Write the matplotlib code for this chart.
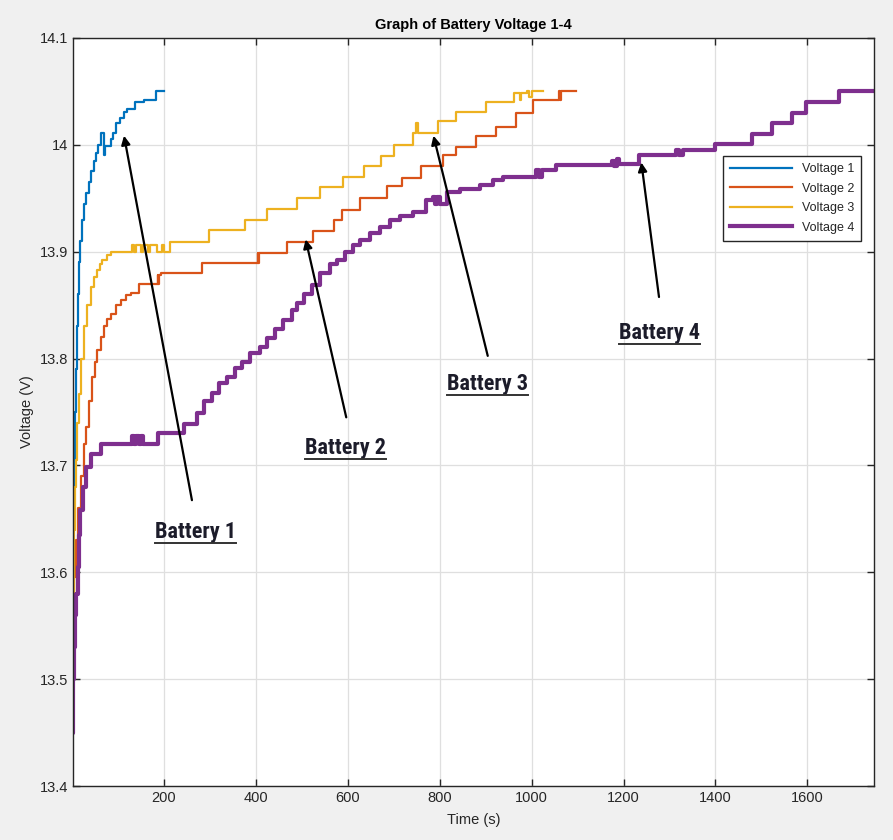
import matplotlib
matplotlib.use("Agg")
import matplotlib.pyplot as plt
from matplotlib.lines import Line2D
from matplotlib.ticker import FuncFormatter

plt.rcParams['font.family'] = ['Liberation Sans', 'DejaVu Sans']

# MATLAB default colours
c_blue, c_orange, c_yellow, c_purple = "#0072BD", "#D95319", "#EDB120", "#7E2F8E"

# Voltage 1 (time s, volts) - step data
t1 = [0, 1, 2, 3, 4.6, 6, 8, 10, 12, 15, 18, 22, 26, 30, 36, 42, 47, 52, 57, 62,
      69, 72, 85, 90, 96, 105, 112, 120, 138, 156, 182, 200]
v1 = [13.45, 13.55, 13.62, 13.67, 13.705, 13.75, 13.79, 13.83, 13.86, 13.89, 13.91, 13.93,
      13.945, 13.955, 13.965, 13.975, 13.985, 13.992, 14.0, 14.011,
      13.99, 13.999, 14.005, 14.011, 14.02, 14.025, 14.031, 14.033, 14.04, 14.042, 14.05, 14.05]

# Voltage 2
t2 = [0, 2, 4.6, 8, 12, 19, 25, 30, 37, 44, 50, 55, 62, 70, 77, 84, 95, 106, 117, 128,
      146, 186, 188, 190, 193, 283, 404, 405, 406, 468, 525, 569, 587, 627, 685, 717, 760,
      807, 836, 880, 923, 967, 1003, 1060, 1062, 1064, 1075, 1097]
v2 = [13.45, 13.55, 13.596, 13.63, 13.66, 13.69, 13.72, 13.736, 13.76, 13.783, 13.797,
      13.808, 13.82, 13.83, 13.837, 13.842, 13.85, 13.855, 13.859, 13.861,
      13.870, 13.878, 13.870, 13.878, 13.880, 13.889, 13.899, 13.889, 13.899, 13.909, 13.919,
      13.93, 13.939, 13.95, 13.961, 13.969, 13.98, 13.99, 13.998, 14.008, 14.017, 14.03,
      14.042, 14.05, 14.042, 14.05, 14.05, 14.05]

# Voltage 3
t3 = [0, 2, 4, 6, 8, 11, 15, 20, 26, 33, 41, 48, 55, 60, 66, 75, 84,
      130, 135, 140, 150, 155, 165, 170, 185, 195, 200, 214, 297, 377, 424, 489, 540,
      590, 636, 672, 700, 742, 748, 752, 797, 836, 900, 961, 975, 978, 990, 995, 1000, 1024]
v3 = [13.45, 13.57, 13.64, 13.68, 13.705, 13.74, 13.767, 13.80, 13.83, 13.85, 13.867,
      13.876, 13.883, 13.888, 13.892, 13.897, 13.90,
      13.906, 13.90, 13.906, 13.90, 13.906, 13.90, 13.906, 13.90, 13.906, 13.90, 13.909,
      13.92, 13.93, 13.94, 13.95, 13.96, 13.97, 13.98, 13.989, 14.0, 14.011, 14.02,
      14.011, 14.022, 14.031, 14.04, 14.048, 14.042, 14.048, 14.05, 14.045, 14.05, 14.05]

# Voltage 4
t4 = [0, 1, 2, 4, 6, 8, 12, 15, 18, 23, 30, 41, 62, 130, 135, 140, 145, 150, 155, 188,
      243, 272, 287, 305, 319, 337, 355, 370, 388, 410, 424, 442, 460, 478, 489, 504, 522,
      540, 561, 576, 594, 612, 627, 648, 670, 692, 713, 742, 771, 786, 790, 795, 800, 815,
      844, 887, 916, 938, 1010, 1017, 1022, 1030, 1053, 1176, 1180, 1185, 1190, 1234, 1314,
      1320, 1330, 1400, 1480, 1523, 1567, 1596, 1668, 1745]
v4 = [13.45, 13.45, 13.50, 13.53, 13.56, 13.58, 13.605, 13.635, 13.658, 13.68, 13.699,
      13.711, 13.72, 13.728, 13.72, 13.728, 13.72, 13.728, 13.72, 13.73,
      13.739, 13.749, 13.76, 13.768, 13.777, 13.783, 13.791, 13.797, 13.805, 13.811, 13.819,
      13.828, 13.836, 13.845, 13.852, 13.86, 13.869, 13.88, 13.888, 13.892, 13.90, 13.906,
      13.911, 13.917, 13.923, 13.93, 13.933, 13.937, 13.948, 13.951, 13.945, 13.951, 13.945,
      13.956, 13.959, 13.962, 13.967, 13.970, 13.976, 13.970, 13.976, 13.976, 13.981, 13.985,
      13.98, 13.987, 13.982, 13.99, 13.995, 13.99, 13.995, 14.001, 14.01, 14.02, 14.03, 14.04,
      14.05, 14.05]

# annotations: label, text position, arrow tail, arrow tip
labels = ["Battery 1", "Battery 2", "Battery 3", "Battery 4"]
text_xy = [(269, 13.638), (596, 13.716), (903, 13.776), (1278, 13.824)]
tail_xy = [(262, 13.665), (598, 13.7425), (906, 13.80), (1278, 13.855)]
tip_xy = [(112, 14.011), (507, 13.914), (785, 14.011), (1238, 13.986)]

fig = plt.figure(figsize=(8.93, 8.4), dpi=100, facecolor="#f0f0f0")
ax = fig.add_axes([0.0817, 0.064, 0.897, 0.891])

ax.plot(t1, v1, color=c_blue, lw=1.6, drawstyle="steps-post", label="Voltage 1")
ax.plot(t2, v2, color=c_orange, lw=1.6, drawstyle="steps-post", label="Voltage 2")
ax.plot(t3, v3, color=c_yellow, lw=1.6, drawstyle="steps-post", label="Voltage 3")
ax.plot(t4, v4, color=c_purple, lw=3.0, drawstyle="steps-post", label="Voltage 4")

ax.set_xlim(2, 1745)
ax.set_ylim(13.4, 14.1)
ax.set_xticks(range(200, 1601, 200))
ax.set_yticks([13.4, 13.5, 13.6, 13.7, 13.8, 13.9, 14.0, 14.1])
ax.yaxis.set_major_formatter(FuncFormatter(lambda v, p: "{:g}".format(round(v, 2))))
ax.grid(True, color="#dfdfdf", lw=0.9)
ax.set_axisbelow(True)
ax.tick_params(direction="in", top=True, right=True, length=5, labelsize=10.5,
               colors="#262626", width=1)
for s in ax.spines.values():
    s.set_color("#262626")
    s.set_linewidth(1.0)

ax.set_title("Graph of Battery Voltage 1-4", fontsize=10.5, fontweight="bold", pad=6)
ax.set_xlabel("Time (s)", fontsize=10.5, color="#262626", labelpad=6)
ax.set_ylabel("Voltage (V)", fontsize=10.5, color="#262626", labelpad=4)

leg = ax.legend(loc="upper right", bbox_to_anchor=(0.992, 0.85), fontsize=9,
                fancybox=False, framealpha=1, edgecolor="#262626", handlelength=5,
                borderpad=0.55, labelspacing=0.6)
for txt in leg.get_texts():
    txt.set_color("#262626")

texts = []
for lab, txy, tail, tip in zip(labels, text_xy, tail_xy, tip_xy):
    ax.annotate("", xy=tip, xytext=tail,
                arrowprops=dict(arrowstyle="-|>", color="black", lw=1.6, mutation_scale=13))
    t = ax.text(txy[0], txy[1], lab, ha="center", va="center", fontsize=16,
                family=["Roboto Condensed", "Liberation Sans Narrow", "DejaVu Sans"],
                fontstretch="condensed", fontweight="bold", color="#1c1c2a")
    texts.append(t)

# underline the battery labels
fig.canvas.draw()
r = fig.canvas.get_renderer()
inv = fig.transFigure.inverted()
for t in texts:
    bb = t.get_window_extent(r)
    (x0, y0), (x1, _) = inv.transform([(bb.x0, bb.y0), (bb.x1, bb.y0)])
    fig.add_artist(Line2D([x0, x1], [y0, y0], color="#333333", lw=1.4))

fig.savefig("out.png", dpi=100, facecolor=fig.get_facecolor())
